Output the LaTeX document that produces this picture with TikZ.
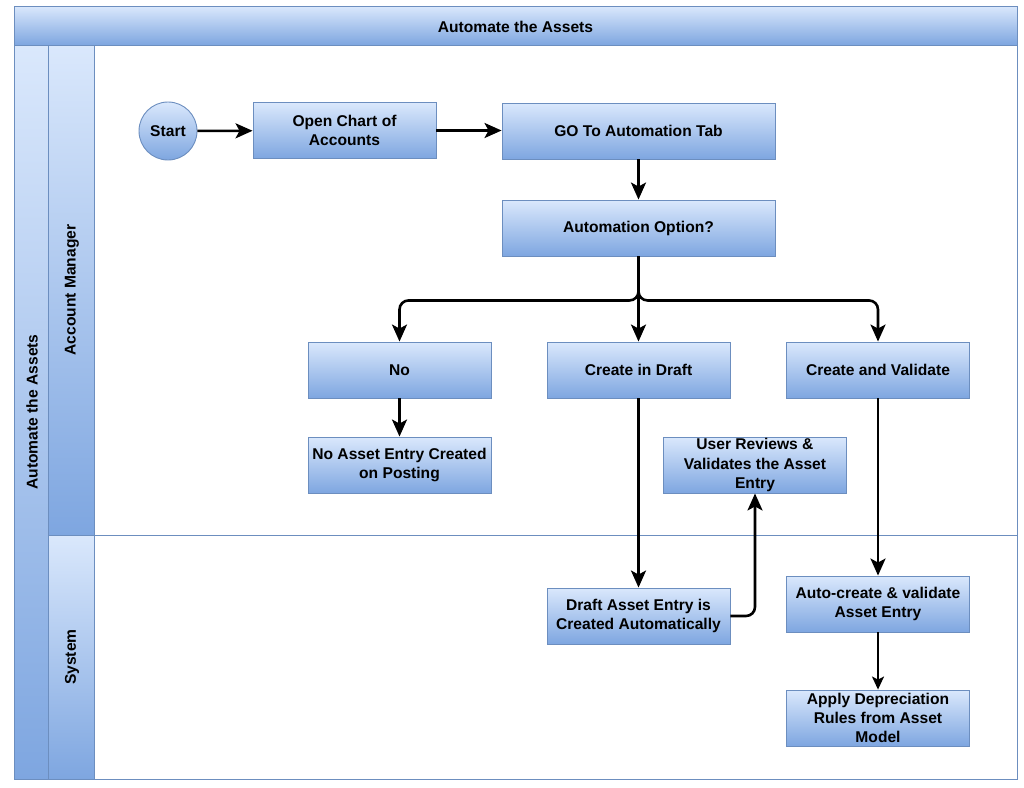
\documentclass[tikz,border=0pt]{standalone}
\usepackage{fontspec}
\setmainfont{Liberation Sans}
\usetikzlibrary{arrows.meta}
\definecolor{fillTop}{HTML}{DAE8FC}
\definecolor{fillBot}{HTML}{7EA6E0}
\definecolor{strokeC}{HTML}{6C8EBF}
\begin{document}
\begin{tikzpicture}[x=1pt,y=-1pt,
  lbl/.style={font=\bfseries\fontsize{15.6}{19.3}\selectfont},
  box/.style={draw=strokeC, line width=0.9pt, top color=fillTop, bottom color=fillBot,
    minimum width=183pt, minimum height=56pt, align=center, inner sep=0pt, lbl},
  startnode/.style={circle, draw=strokeC, line width=0.9pt, top color=fillTop, bottom color=fillBot,
    minimum size=58pt, inner sep=0pt, lbl},
  band/.style={draw=strokeC, line width=0.9pt, top color=fillTop, bottom color=fillBot},
  flow/.style={line width=2.6pt, rounded corners=9pt, -{Stealth[length=17pt,width=15pt,inset=4pt]}},
  flowthin/.style={line width=1.8pt, -{Stealth[length=13pt,width=12pt,inset=3pt]}}]
\useasboundingbox (0,0) rectangle (1024,787);
% pool
\draw[strokeC, line width=0.9pt, fill=white] (14,6) rectangle (1017,779);
\path[band] (14,6) rectangle (1017,45);
\node[lbl] (pooltitle) at (515.5,26.5) {Automate the Assets};
\path[band] (14,45) rectangle (48,779);
\node[lbl, rotate=90] (poolside) at (32,412) {Automate the Assets};
% lanes
\path[band] (48,45) rectangle (94,535);
\node[lbl, rotate=90] (lane1) at (72,290) {Account Manager};
\path[band] (48,535) rectangle (94,779);
\node[lbl, rotate=90] (lane2) at (72,657) {System};
\draw[strokeC, line width=0.9pt] (94,45) rectangle (1017,535);
\draw[strokeC, line width=0.9pt] (94,535) rectangle (1017,779);
% nodes
\node[startnode] (start) at (168,131) {Start};
\node[box] (open) at (344.5,130.5) {Open Chart of\\Accounts};
\node[box, minimum width=273pt] (goto) at (638.5,131) {GO To Automation Tab};
\node[box, minimum width=273pt] (opt) at (638.5,228) {Automation Option?};
\node[box] (no) at (399.5,370) {No};
\node[box] (cdraft) at (638.5,370) {Create in Draft};
\node[box] (cval) at (878,370) {Create and Validate};
\node[box] (noasset) at (399.5,465) {No Asset Entry Created\\on Posting};
\node[box] (review) at (755,465) {User Reviews \&\\Validates the Asset\\Entry};
\node[box] (draftauto) at (638.5,616) {Draft Asset Entry is\\Created Automatically};
\node[box] (autoc) at (878,604) {Auto-create \& validate\\Asset Entry};
\node[box] (apply) at (878,718) {Apply Depreciation\\Rules from Asset\\Model};
% connectors
\draw[flow] (start) -- (open);
\draw[flow] (open.east) -- (goto.west |- open.east);
\draw[flow] (goto) -- (opt);
\draw[flow] (opt.south) -- ++(0,44) -| (no.north);
\draw[flow] (opt.south) -- (cdraft.north);
\draw[flow] (opt.south) -- ++(0,44) -| (cval.north);
\draw[flow] (no) -- (noasset);
\draw[flow] (cdraft) -- (draftauto);
\draw[flow] (draftauto.east) -| (review.south);
\draw[flow] (cval) -- (autoc);
\draw[flowthin] (autoc) -- (apply);
\end{tikzpicture}
\end{document}
